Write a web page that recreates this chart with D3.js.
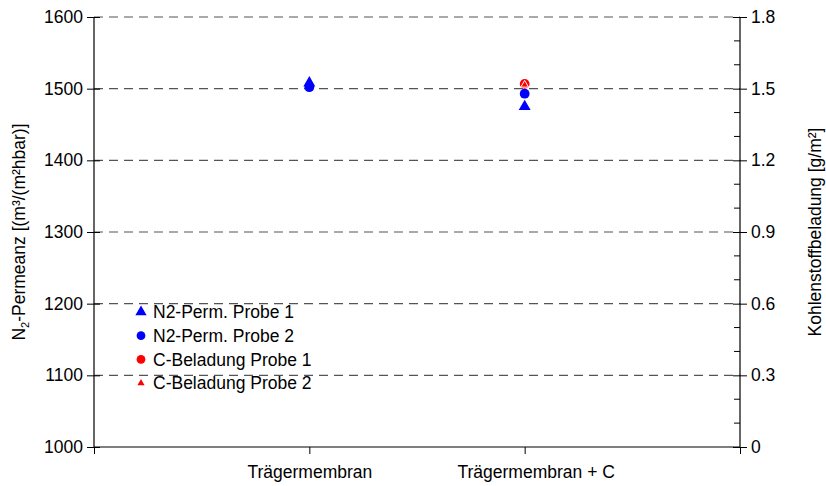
<!DOCTYPE html>
<meta charset="utf-8">
<style>
  body { margin: 0; background: #fff; }
  svg text { font-family: "Liberation Sans", Arial, sans-serif; fill: #000; }
</style>
<body>
<svg width="826" height="486"></svg>
<script src="https://cdnjs.cloudflare.com/ajax/libs/d3/7.8.5/d3.min.js"></script>
<script>
// categories (outer slots are empty, like the original category axis)
var slots = ["_start", "Trägermembran", "Trägermembran + C", "_end"];
var categories = ["Trägermembran", "Trägermembran + C"];

// N2 permeance, left axis
var n2Probe1 = [1508, 1475];
var n2Probe2 = [1502, 1493];
// carbon loading, right axis (none on the bare membrane)
var cProbe1 = [null, 1.52];
var cProbe2 = [null, 1.52];

var leftTicks = [1000, 1100, 1200, 1300, 1400, 1500, 1600];
var rightTicks = [0, 0.3, 0.6, 0.9, 1.2, 1.5, 1.8];
var rightMinor = d3.range(0, 19).map(function(i){ return i / 10; });

var legendItems = ["N2-Perm. Probe 1", "N2-Perm. Probe 2", "C-Beladung Probe 1", "C-Beladung Probe 2"];

var pLeft = 94, pRight = 740, pTop = 17, pBottom = 447;
var fs = 17.5;
var svg = d3.select("svg");

var x = d3.scalePoint().domain(slots).range([pLeft, pRight]);
var y = d3.scaleLinear().domain([1000, 1600]).range([pBottom, pTop]);
var y2 = d3.scaleLinear().domain([0, 1.8]).range([pBottom, pTop]);

// dashed grid lines
svg.append("g").selectAll("line")
  .data(leftTicks.filter(function(d){ return d > 1000; }))
  .enter().append("line")
  .attr("x1", pLeft).attr("x2", pRight)
  .attr("y1", function(d){ return y(d); })
  .attr("y2", function(d){ return y(d); })
  .attr("stroke", "#555")
  .attr("stroke-width", 1.2)
  .attr("stroke-dasharray", "9,6");

// left axis
var gL = svg.append("g").attr("transform", "translate(" + pLeft + ",0)")
  .call(d3.axisLeft(y).tickValues(leftTicks).tickSize(7).tickPadding(4).tickFormat(d3.format("d")));
gL.selectAll(".tick line").attr("x2", 6).attr("x1", -7);

// right axis
var gR = svg.append("g").attr("transform", "translate(" + pRight + ",0)")
  .call(d3.axisRight(y2).tickValues(rightTicks).tickSize(7).tickPadding(4)
    .tickFormat(function(d){ return d === 0 ? "0" : d3.format(".1f")(d); }));
gR.selectAll(".tick line").attr("x1", -7);
gR.selectAll(".minor").data(rightMinor.filter(function(d, i){ return i % 3 !== 0; }))
  .enter().append("line")
  .attr("x1", -6).attr("x2", 0)
  .attr("y1", function(d){ return y2(d); })
  .attr("y2", function(d){ return y2(d); })
  .attr("stroke", "#000");

// bottom axis
var gB = svg.append("g").attr("transform", "translate(0," + pBottom + ")")
  .call(d3.axisBottom(x).tickSize(7).tickPadding(12)
    .tickFormat(function(d){ return categories.indexOf(d) >= 0 ? d : ""; }));
// the second label sits a little right of its tick in the original
gB.selectAll(".tick text").attr("dx", function(d){ return d === categories[1] ? 11 : 0; });

[gL, gR, gB].forEach(function(g){
  g.select(".domain").attr("stroke", "#000").attr("stroke-width", 1.2);
  g.selectAll(".tick line").attr("stroke", "#000");
  g.selectAll(".tick text").attr("font-size", fs).attr("fill", "#000");
});
gL.select(".domain").attr("d", "M0," + pTop + "V" + pBottom);
gR.select(".domain").attr("d", "M0," + pTop + "V" + pBottom);
gB.select(".domain").attr("d", "M" + pLeft + ",0H" + pRight);

// axis titles
var tl = svg.append("text")
  .attr("transform", "translate(25," + ((pTop + pBottom) / 2) + ") rotate(-90)")
  .attr("text-anchor", "middle").attr("font-size", fs);
tl.append("tspan").text("N");
tl.append("tspan").attr("font-size", 11).attr("dy", 4).text("2");
tl.append("tspan").attr("dy", -4).text("-Permeanz [(m³/(m²hbar)]");

svg.append("text")
  .attr("transform", "translate(821," + ((pTop + pBottom) / 2) + ") rotate(-90)")
  .attr("text-anchor", "middle").attr("font-size", fs)
  .text("Kohlenstoffbeladung [g/m²]");

var tri = d3.symbol().type(d3.symbolTriangle);
var circ = d3.symbol().type(d3.symbolCircle);

// markers
function pts(vals, scale) {
  return categories.map(function(c, i){ return {c: c, v: vals[i]}; })
    .filter(function(d){ return d.v != null; })
    .map(function(d){ return [x(d.c), scale(d.v)]; });
}
svg.append("g").selectAll("path").data(pts(n2Probe2, y)).enter().append("path")
  .attr("d", circ.size(75)()).attr("fill", "#0000ff")
  .attr("transform", function(d){ return "translate(" + d[0] + "," + d[1] + ")"; });
svg.append("g").selectAll("path").data(pts(n2Probe1, y)).enter().append("path")
  .attr("d", tri.size(62)()).attr("fill", "#0000ff")
  .attr("transform", function(d){ return "translate(" + d[0] + "," + d[1] + ")"; });
svg.append("g").selectAll("path").data(pts(cProbe1, y2)).enter().append("path")
  .attr("d", circ.size(75)()).attr("fill", "#ff0000")
  .attr("transform", function(d){ return "translate(" + d[0] + "," + d[1] + ")"; });
svg.append("g").selectAll("path").data(pts(cProbe2, y2)).enter().append("path")
  .attr("d", tri.size(26)()).attr("fill", "#ff0000").attr("stroke", "#fff").attr("stroke-width", 1)
  .attr("transform", function(d){ return "translate(" + d[0] + "," + (d[1] + 1) + ")"; });

// legend
var legendMarks = [
  {sym: tri, size: 55, color: "#0000ff"},
  {sym: circ, size: 60, color: "#0000ff"},
  {sym: circ, size: 60, color: "#ff0000"},
  {sym: tri, size: 22, color: "#ff0000"}
];
var lg = svg.append("g").selectAll("g").data(legendItems).enter().append("g")
  .attr("transform", function(d, i){ return "translate(141," + (312 + i * 23.7) + ")"; });
lg.append("path")
  .attr("d", function(d, i){ return legendMarks[i].sym.size(legendMarks[i].size)(); })
  .attr("fill", function(d, i){ return legendMarks[i].color; });
lg.append("text").attr("x", 12).attr("dy", "0.35em").attr("font-size", fs).text(function(d){ return d; });
</script>
</body>
